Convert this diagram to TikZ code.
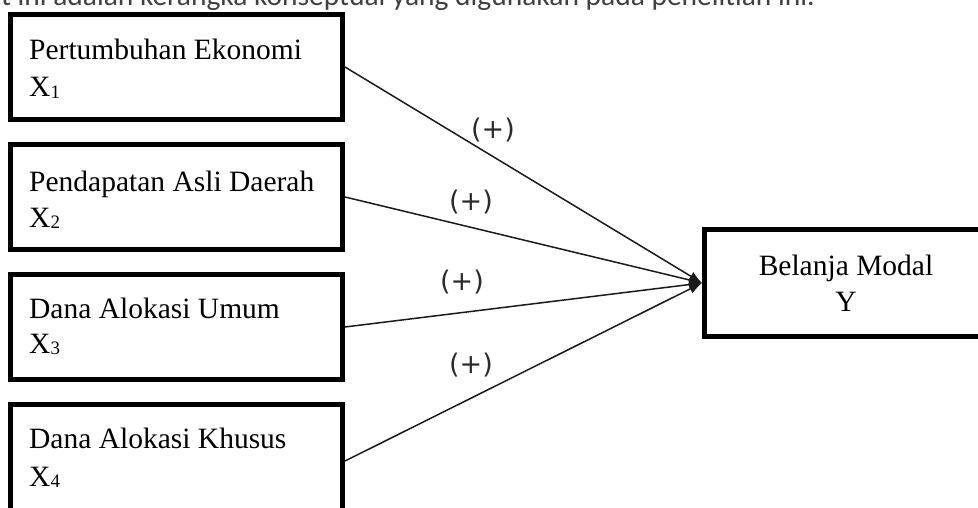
\documentclass[tikz,border=0pt]{standalone}
\usepackage{fontspec}
\setmainfont{Liberation Serif}
\newfontfamily\capfont{Carlito}
\newfontfamily\signfont{DejaVu Sans}
\usetikzlibrary{arrows.meta}
\definecolor{capgray}{HTML}{404040}
\definecolor{linegray}{HTML}{1A1A1A}
\definecolor{signgray}{HTML}{2A2A2A}
\newcommand\mysize{\fontsize{29.5}{36}\selectfont}
\newcommand\xsub[1]{\raisebox{-1.5pt}{\fontsize{19}{19}\selectfont #1}}
\tikzset{
  varbox/.style={draw=black, line width=5pt, minimum width=332pt, minimum height=105pt, inner sep=0pt},
  ybox/.style={draw=black, line width=5pt, minimum width=283pt, minimum height=107pt, inner sep=0pt, align=center, font=\mysize},
  boxtext/.style={anchor=base west, inner sep=0pt, font=\mysize},
  conn/.style={draw=linegray, line width=1.5pt, -{Latex[length=13pt,width=10pt]}},
  sign/.style={font=\signfont\fontsize{27}{27}\selectfont, text=signgray, inner sep=0pt},
  caption/.style={font=\capfont\fontsize{29.5}{29.5}\selectfont, text=capgray, anchor=base east, inner sep=0pt}
}
\begin{document}
\begin{tikzpicture}[x=1pt,y=-1pt]
\useasboundingbox (0,0) rectangle (978,508);
\clip (0,0) rectangle (978,508);
\node[caption] (cap) at (815,6) {Berikut ini adalah kerangka konseptual yang digunakan pada penelitian ini.};
% left boxes
\node[varbox] (b1) at (176.5,67) {};
\node[varbox] (b2) at (176.5,197) {};
\node[varbox] (b3) at (176.5,327) {};
\node[varbox, minimum height=113pt] (b4) at (176.5,461) {};
\node[boxtext] (t1a) at (29,60) {Pertumbuhan Ekonomi};
\node[boxtext] (t1b) at (29,97) {X\xsub{1}};
\node[boxtext] (t2a) at (29,192) {Pendapatan Asli Daerah};
\node[boxtext] (t2b) at (29,227) {X\xsub{2}};
\node[boxtext] (t3a) at (29,318) {Dana Alokasi Umum};
\node[boxtext] (t3b) at (29,353) {X\xsub{3}};
\node[boxtext] (t4a) at (29,448) {Dana Alokasi Khusus};
\node[boxtext] (t4b) at (29,486) {X\xsub{4}};
% right box
\node[ybox] (yb) at (846,283) {Belanja Modal\\Y};
% connectors
\draw[conn] (b1.east) -- (yb.west);
\draw[conn] (b2.east) -- (yb.west);
\draw[conn] (b3.east) -- (yb.west);
\draw[conn] (b4.east) -- (yb.west);
% signs
\node[sign] (s1) at (493,130) {(+)};
\node[sign] (s2) at (471,202) {(+)};
\node[sign] (s3) at (462,282) {(+)};
\node[sign] (s4) at (471,365) {(+)};
\end{tikzpicture}
\end{document}
